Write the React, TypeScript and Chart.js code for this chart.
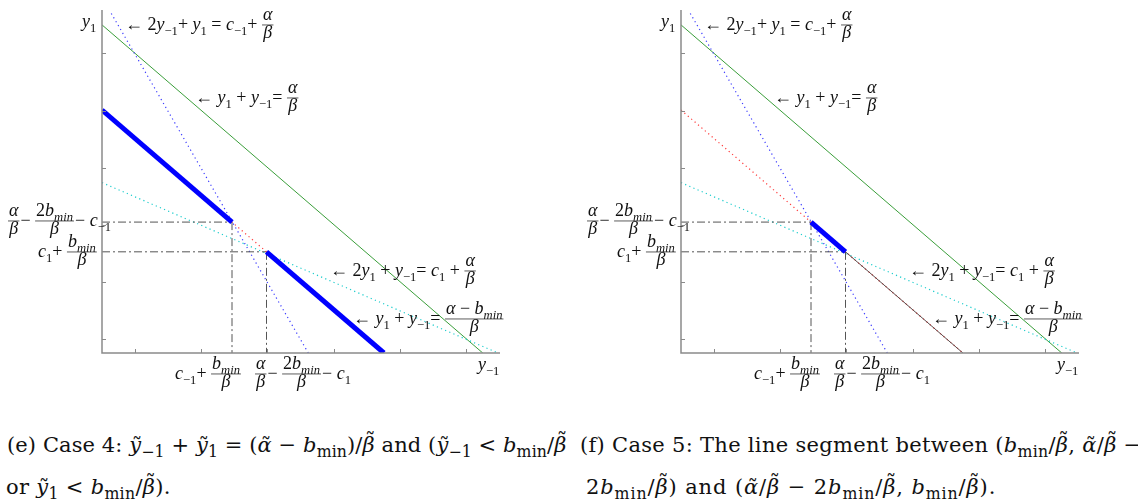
import React, { useEffect, useRef } from "react";
import { Chart, registerables } from "chart.js";
Chart.register(...registerables);

// ---------- data (axis units) ----------
const AXIS_MIN = 0;
const AXIS_MAX = 6;
const xTicks = [0.49, 1.49, 2.49, 3.49, 4.49, 5.49];
const yTicks = [0.24, 1.24, 2.24, 3.24, 4.24, 5.24];

// y1 + y-1 = alpha/beta
const budgetLine = [[0, 5.74], [5.74, 0]];
// 2y-1 + y1 = c-1 + alpha/beta
const steepLine = [[0.14, 5.94], [3.11, 0]];
// 2y1 + y-1 = c1 + alpha/beta
const flatLine = [[0, 2.98], [5.97, 0]];
// y1 + y-1 = (alpha - bmin)/beta
const bminLine = [[0, 4.25], [4.25, 0]];
// case (e) solution segments
const caseESeg1 = [[0, 4.25], [1.96, 2.29]];
const caseESeg2 = [[2.48, 1.77], [4.25, 0]];
// case (f) solution segment and tail
const caseFSeg = [[1.96, 2.29], [2.48, 1.77]];
const caseFTail = [[2.48, 1.77], [4.25, 0]];
// dash-dot guides
const guideHighY = [[0, 2.29], [1.96, 2.29]];
const guideHighX = [[1.96, 2.29], [1.96, 0]];
const guideLowY = [[0, 1.77], [2.48, 1.77]];
const guideLowX = [[2.48, 1.77], [2.48, 0]];

// ---------- math text ----------
type Tok =
  | { t: string; it?: boolean }
  | { sub: Tok[] }
  | { frac: [Tok[], Tok[]] };
const R = (t: string): Tok => ({ t });
const I = (t: string): Tok => ({ t, it: true });
const S = (...k: Tok[]): Tok => ({ sub: k });
const F = (n: Tok[], d: Tok[]): Tok => ({ frac: [n, d] });
const AB = F([I("α")], [I("β")]);
const BMIN = [I("b"), S(I("min"))];

const FONT = '"Liberation Serif", "DejaVu Serif", serif';
const CAP_FONT = '"DejaVu Serif", "Liberation Serif", serif';
const LABEL_SIZE = 18;

function rend(ctx: CanvasRenderingContext2D, toks: Tok[], x: number, y: number, size: number, draw: boolean): number {
  let cx = x;
  for (const k of toks) {
    if ("t" in k) {
      ctx.font = `${k.it ? "italic " : ""}${size}px ${FONT}`;
      if (draw) ctx.fillText(k.t, cx, y);
      cx += ctx.measureText(k.t).width;
    } else if ("sub" in k) {
      cx += rend(ctx, k.sub, cx, y + size * 0.3, size * 0.7, draw);
    } else {
      const [n, d] = k.frac;
      const wn = rend(ctx, n, 0, 0, size, false);
      const wd = rend(ctx, d, 0, 0, size, false);
      const W = Math.max(wn, wd) + 2;
      const axis = y - size * 0.28;
      if (draw) {
        rend(ctx, n, cx + (W - wn) / 2, axis - size * 0.3, size, true);
        rend(ctx, d, cx + (W - wd) / 2, axis + size * 0.74, size, true);
        ctx.save();
        ctx.strokeStyle = "#333";
        ctx.lineWidth = 0.8;
        ctx.beginPath();
        ctx.moveTo(cx, axis);
        ctx.lineTo(cx + W, axis);
        ctx.stroke();
        ctx.restore();
      }
      cx += W + 1;
    }
  }
  return cx - x;
}

type Label = { x: number; y: number; toks: Tok[] };
const LABELS: Label[] = [
  { x: 82, y: 27, toks: [I("y"), S(R("1"))] },
  { x: 125, y: 30, toks: [R("← 2"), I("y"), S(R("−1")), R("+ "), I("y"), S(R("1")), R(" = "), I("c"), S(R("−1")), R("+ "), AB] },
  { x: 195, y: 103, toks: [R("← "), I("y"), S(R("1")), R(" + "), I("y"), S(R("−1")), R("= "), AB] },
  { x: 8, y: 226, toks: [AB, R("− "), F([R("2"), ...BMIN], [I("β")]), R("− "), I("c"), S(R("−1"))] },
  { x: 38, y: 257, toks: [I("c"), S(R("1")), R("+ "), F(BMIN, [I("β")])] },
  { x: 330, y: 276, toks: [R("← 2"), I("y"), S(R("1")), R(" + "), I("y"), S(R("−1")), R("= "), I("c"), S(R("1")), R(" + "), AB] },
  { x: 353, y: 324, toks: [R("← "), I("y"), S(R("1")), R(" + "), I("y"), S(R("−1")), R("= "), F([I("α"), R(" − "), ...BMIN], [I("β")])] },
  { x: 478, y: 370, toks: [I("y"), S(R("−1"))] },
  { x: 175, y: 379, toks: [I("c"), S(R("−1")), R("+ "), F(BMIN, [I("β")])] },
  { x: 255, y: 379, toks: [AB, R("− "), F([R("2"), ...BMIN], [I("β")]), R("− "), I("c"), S(R("1"))] },
];

const overlay = {
  id: "overlay",
  afterDatasetsDraw(chart: any) {
    const { ctx, chartArea: ca, scales } = chart;
    ctx.save();
    ctx.strokeStyle = "#8a8a8a";
    ctx.lineWidth = 1.5;
    ctx.beginPath();
    ctx.moveTo(ca.left, ca.top);
    ctx.lineTo(ca.left, ca.bottom);
    ctx.lineTo(ca.right, ca.bottom);
    ctx.stroke();
    ctx.lineWidth = 1;
    ctx.beginPath();
    for (const v of xTicks) {
      const px = Math.round(scales.x.getPixelForValue(v)) + 0.5;
      ctx.moveTo(px, ca.bottom);
      ctx.lineTo(px, ca.bottom - 4);
    }
    for (const v of yTicks) {
      const py = Math.round(scales.y.getPixelForValue(v)) + 0.5;
      ctx.moveTo(ca.left, py);
      ctx.lineTo(ca.left + 4, py);
    }
    ctx.stroke();
    ctx.restore();
  },
  afterDraw(chart: any) {
    const ctx = chart.ctx as CanvasRenderingContext2D;
    ctx.save();
    ctx.fillStyle = "#111";
    ctx.textBaseline = "alphabetic";
    for (const l of LABELS) rend(ctx, l.toks, l.x, l.y, LABEL_SIZE, true);
    ctx.restore();
  },
};

const mk = (pts: number[][], color: string, width: number, dash: number[] = []) => ({
  data: pts.map(([x, y]) => ({ x, y })),
  borderColor: color,
  backgroundColor: color,
  borderWidth: width,
  borderDash: dash,
  showLine: true,
  pointRadius: 0,
  fill: false,
  tension: 0,
  borderCapStyle: "butt" as const,
});

const DOT = [1.2, 3.3];
const DASHDOT = [8, 3, 2, 3];
const C_BLUE = "#0000ff";
const C_DOTBLUE = "#3a3aff";
const C_CYAN = "#19cccc";
const C_GREEN = "#3a9e3a";
const C_RED = "#ff3a3a";
const C_GUIDE = "#555555";

const guides = () => [
  mk(guideHighY, C_GUIDE, 1, DASHDOT),
  mk(guideHighX, C_GUIDE, 1, DASHDOT),
  mk(guideLowY, C_GUIDE, 1, DASHDOT),
  mk(guideLowX, C_GUIDE, 1, DASHDOT),
];
const background = () => [
  mk(steepLine, C_DOTBLUE, 1.2, DOT),
  mk(flatLine, C_CYAN, 1.2, DOT),
  mk(budgetLine, C_GREEN, 1),
];

const datasetsE = () => [
  mk(caseESeg1, C_BLUE, 5),
  mk(caseESeg2, C_BLUE, 5),
  mk(bminLine, C_RED, 1.2, DOT),
  ...guides(),
  ...background(),
];
const datasetsF = () => [
  mk(caseFSeg, C_BLUE, 5),
  mk(caseFTail, "#5a4a4a", 1),
  mk(bminLine, C_RED, 1.2, DOT),
  ...guides(),
  ...background(),
];

function Panel({ left, width, datasets }: { left: number; width: number; datasets: () => any[] }) {
  const ref = useRef<HTMLCanvasElement>(null);
  useEffect(() => {
    const chart = new Chart(ref.current!, {
      type: "scatter",
      data: { datasets: datasets() },
      options: {
        responsive: false,
        animation: false,
        devicePixelRatio: 1,
        events: [],
        layout: { padding: { left: 102, right: width - 500, top: 10, bottom: 47 } },
        plugins: { legend: { display: false }, tooltip: { enabled: false } },
        scales: {
          x: { type: "linear", min: AXIS_MIN, max: AXIS_MAX, display: false },
          y: { type: "linear", min: AXIS_MIN, max: AXIS_MAX, display: false },
        },
      },
      plugins: [overlay],
    } as any);
    return () => chart.destroy();
  }, []);
  return (
    <canvas
      ref={ref}
      width={width}
      height={400}
      style={{ position: "absolute", left, top: 0, width, height: 400 }}
    />
  );
}

const subStyle: React.CSSProperties = { fontSize: "0.75em", verticalAlign: "-0.3em", lineHeight: 0 };
const Sb = ({ c }: { c: string }) => <sub style={subStyle}>{c}</sub>;
const It = ({ c }: { c: string }) => <i>{c}</i>;
// letter with a tilde accent
const Tl = ({ c, up = 0 }: { c: string; up?: number }) => (
  <span style={{ position: "relative", display: "inline-block", fontStyle: "italic" }}>
    {c}
    <span
      style={{
        position: "absolute",
        left: 0,
        right: 0,
        top: `${-up}em`,
        textAlign: "center",
        fontStyle: "normal",
        paddingLeft: "0.12em",
        letterSpacing: 0,
      }}
    >
      ˜
    </span>
  </span>
);
const YT = () => <Tl c="y" />;
const AT = () => <Tl c="α" />;
const BT = () => <Tl c="β" up={0.22} />;
const BM = () => (
  <>
    <It c="b" />
    <Sb c="min" />
  </>
);

const capStyle = (left: number, top: number, ls: number): React.CSSProperties => ({
  position: "absolute",
  left,
  top,
  fontFamily: CAP_FONT,
  fontSize: 21,
  lineHeight: "20px",
  letterSpacing: `${ls}px`,
  whiteSpace: "nowrap",
  color: "#111",
});

export default function App() {
  return (
    <div style={{ position: "fixed", left: 0, top: 0, width: 1138, height: 504, background: "#fff", overflow: "hidden" }}>
      <Panel left={0} width={570} datasets={datasetsE} />
      <Panel left={579} width={559} datasets={datasetsF} />
      <div style={capStyle(7, 435, 0.1)}>
        (e) Case 4: <YT /><Sb c="−1" /> + <YT /><Sb c="1" /> = (<AT /> − <BM />)/<BT /> and (<YT /><Sb c="−1" /> &lt; <BM />/<BT />
      </div>
      <div style={capStyle(6, 477, 0.3)}>
        or <YT /><Sb c="1" /> &lt; <BM />/<BT />).
      </div>
      <div style={capStyle(580, 435, 0.3)}>
        (f) Case 5: The line segment between (<BM />/<BT />, <AT />/<BT /> −
      </div>
      <div style={capStyle(586, 477, 0.9)}>
        2<BM />/<BT />) and (<AT />/<BT /> − 2<BM />/<BT />, <BM />/<BT />).
      </div>
    </div>
  );
}
